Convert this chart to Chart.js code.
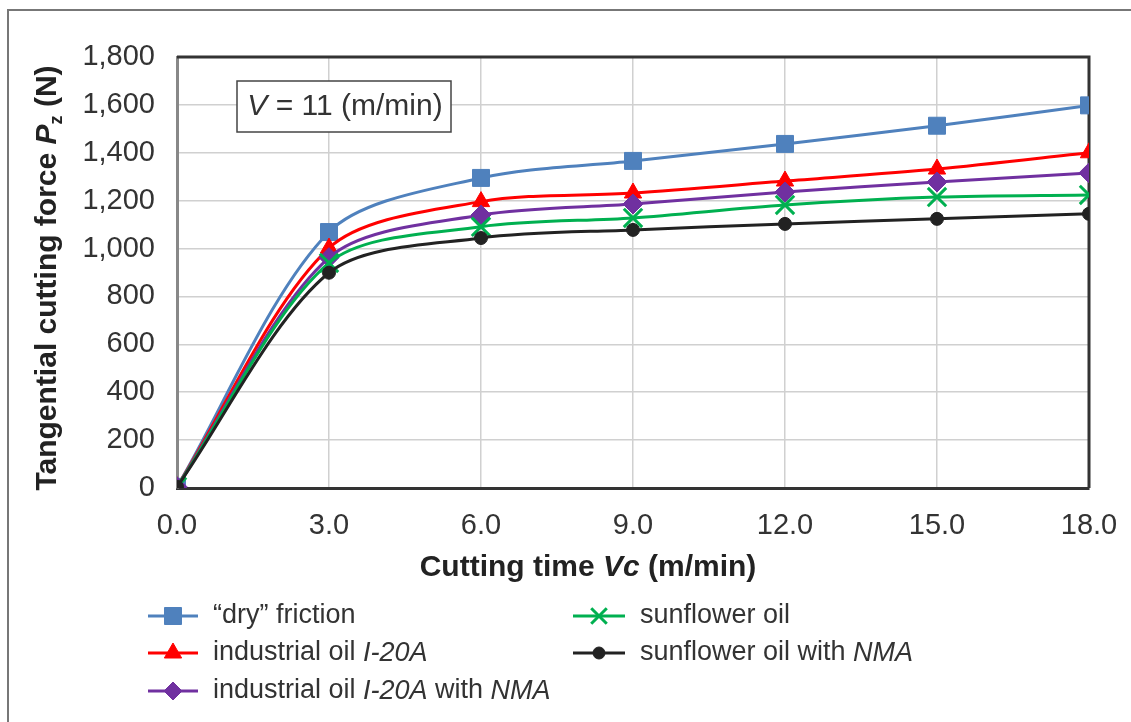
<!DOCTYPE html>
<html>
<head>
<meta charset="utf-8">
<script src="https://cdn.jsdelivr.net/npm/chart.js@4/dist/chart.umd.min.js"></script>
<style>
  body { margin: 0; background: #fff; }
  #wrap { width: 1131px; height: 722px; position: relative; }
</style>
</head>
<body>
<div id="wrap"><canvas id="forceChart"></canvas></div>
<script>
// cutting time, m/min
const xValues = [0, 3, 6, 9, 12, 15, 18];
const dryFriction = [5, 1069, 1295, 1366, 1437, 1513, 1598];
const industrialOil = [5, 1002, 1196, 1232, 1282, 1332, 1400];
const industrialOilNma = [5, 962, 1140, 1186, 1236, 1278, 1316];
const sunflowerOil = [5, 940, 1091, 1128, 1182, 1215, 1224];
const sunflowerOilNma = [5, 899, 1044, 1078, 1103, 1124, 1145];
const yTicks = [0, 200, 400, 600, 800, 1000, 1200, 1400, 1600, 1800];

const FONT = '"Liberation Sans", Arial, sans-serif';
const TEXT = '#333333';

const points = arr => xValues.map((x, i) => ({ x: x, y: arr[i] }));

const series = [
  { data: dryFriction, color: '#4f81bd', style: 'rect', radius: 12, lradius: 12,
    label: [['“dry” friction']] },
  { data: industrialOil, color: '#ff0000', style: 'triangle', radius: 10, lradius: 10,
    label: [['industrial oil '], ['I-20A', 'i']] },
  { data: industrialOilNma, color: '#7030a0', style: 'rectRot', radius: 10, lradius: 9,
    label: [['industrial oil '], ['I-20A', 'i'], [' with '], ['NMA', 'i']] },
  { data: sunflowerOil, color: '#00b050', style: 'crossRot', radius: 13, lradius: 11,
    label: [['sunflower oil']] },
  { data: sunflowerOilNma, color: '#222222', style: 'circle', radius: 6.5, lradius: 6,
    label: [['sunflower oil with '], ['NMA', 'i']] }
];

// rich text: parts = [text, flags] with flags i (italic), b (bold), s (subscript)
function drawRich(ctx, parts, x, y, size, align, bold) {
  const fontOf = p => {
    const f = p[1] || '';
    const sz = f.includes('s') ? Math.round(size * 0.6) : size;
    return (f.includes('i') ? 'italic ' : '') + (bold || f.includes('b') ? 'bold ' : '') + sz + 'px ' + FONT;
  };
  let total = 0;
  parts.forEach(p => { ctx.font = fontOf(p); total += ctx.measureText(p[0]).width; });
  let cx = align === 'center' ? x - total / 2 : x;
  ctx.textAlign = 'left';
  ctx.textBaseline = 'middle';
  parts.forEach(p => {
    ctx.font = fontOf(p);
    const dy = (p[1] || '').includes('s') ? size * 0.3 : 0;
    ctx.fillText(p[0], cx, y + dy);
    cx += ctx.measureText(p[0]).width;
  });
  return total;
}

const decorations = {
  id: 'decorations',
  beforeDatasetsDraw(chart) {
    const ctx = chart.ctx;
    const a = chart.chartArea;
    ctx.save();
    // outer frame (top and left only)
    ctx.strokeStyle = '#777';
    ctx.lineWidth = 2;
    ctx.beginPath();
    ctx.moveTo(8, 722);
    ctx.lineTo(8, 10);
    ctx.lineTo(1131, 10);
    ctx.stroke();
    // plot frame top and right
    ctx.strokeStyle = '#333';
    ctx.lineWidth = 3;
    ctx.beginPath();
    ctx.moveTo(a.left, a.top);
    ctx.lineTo(a.right, a.top);
    ctx.lineTo(a.right, a.bottom);
    ctx.stroke();
    // speed note box
    ctx.fillStyle = '#fff';
    ctx.fillRect(237, 81, 214, 51);
    ctx.strokeStyle = '#444';
    ctx.lineWidth = 1.5;
    ctx.strokeRect(237, 81, 214, 51);
    ctx.fillStyle = TEXT;
    drawRich(ctx, [['V', 'i'], [' = 11 (m/min)']], 345, 107, 30, 'center');
    ctx.restore();
  },
  afterDraw(chart) {
    const ctx = chart.ctx;
    ctx.save();
    ctx.fillStyle = '#222';
    // x title
    drawRich(ctx, [['Cutting time '], ['Vc', 'i'], [' (m/min)']], 588, 568, 30, 'center', true);
    // y title
    ctx.translate(48, 278);
    ctx.rotate(-Math.PI / 2);
    drawRich(ctx, [['Tangential cutting force '], ['P', 'i'], ['z', 's'], [' (N)']], 0, 0, 30, 'center', true);
    ctx.restore();

    // legend
    const rows = [616, 653, 691];
    const cols = [{ x0: 148, x1: 198, tx: 213 }, { x0: 573, x1: 625, tx: 640 }];
    series.forEach((s, i) => {
      const col = cols[i < 3 ? 0 : 1];
      const y = rows[i < 3 ? i : i - 3];
      ctx.save();
      ctx.strokeStyle = s.color;
      ctx.lineWidth = 3;
      ctx.beginPath();
      ctx.moveTo(col.x0, y);
      ctx.lineTo(col.x1, y);
      ctx.stroke();
      ctx.fillStyle = s.color;
      ctx.strokeStyle = s.color;
      ctx.lineWidth = s.style === 'crossRot' ? 3 : 1;
      Chart.helpers.drawPoint(ctx, { pointStyle: s.style, radius: s.lradius, rotation: 0, borderWidth: ctx.lineWidth }, (col.x0 + col.x1) / 2, y);
      ctx.fillStyle = TEXT;
      drawRich(ctx, s.label, col.tx, y, 27, 'left');
      ctx.restore();
    });
  }
};

new Chart(document.getElementById('forceChart'), {
  type: 'line',
  data: {
    datasets: series.map((s, i) => ({
      data: points(s.data),
      borderColor: s.color,
      backgroundColor: s.color,
      borderWidth: 3,
      pointStyle: s.style,
      pointRadius: s.radius,
      pointBorderWidth: s.style === 'crossRot' ? 3 : 1,
      pointBorderColor: s.color,
      pointBackgroundColor: s.color,
      tension: 0.3,
      order: series.length - i
    }))
  },
  options: {
    responsive: true,
    maintainAspectRatio: false,
    animation: false,
    layout: { padding: { top: 57, right: 42, left: 0, bottom: 0 } },
    plugins: { legend: { display: false }, tooltip: { enabled: false } },
    scales: {
      x: {
        type: 'linear',
        min: 0,
        max: 18,
        ticks: {
          stepSize: 3,
          callback: v => v.toFixed(1),
          font: { size: 29, family: FONT },
          color: TEXT,
          padding: 21
        },
        grid: { color: '#d0d0d0', lineWidth: 1.5, drawTicks: false },
        border: { color: '#333', width: 3 },
        afterFit: s => { s.height = 234; s.paddingLeft = 0; s.paddingRight = 0; }
      },
      y: {
        min: 0,
        max: 1800,
        afterBuildTicks: s => { s.ticks = yTicks.map(v => ({ value: v })); },
        ticks: {
          callback: v => v.toLocaleString('en-US'),
          font: { size: 29, family: FONT },
          color: TEXT,
          padding: 22
        },
        grid: { color: '#d0d0d0', lineWidth: 1.5, drawTicks: false },
        border: { color: '#888', width: 3 },
        afterFit: s => { s.width = 177; s.paddingTop = 0; s.paddingBottom = 0; }
      }
    }
  },
  plugins: [decorations]
});
</script>
</body>
</html>
